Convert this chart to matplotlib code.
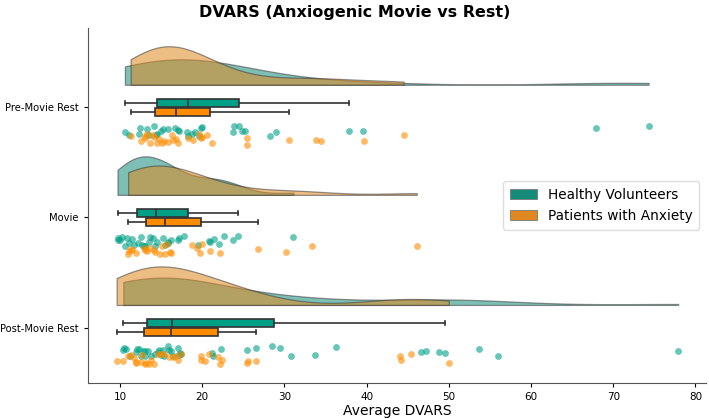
import colorsys

import matplotlib

matplotlib.use("Agg")
import matplotlib.pyplot as plt  # noqa: E402
import numpy as np  # noqa: E402
from matplotlib.colors import to_rgb  # noqa: E402
from matplotlib.patches import Patch  # noqa: E402

conditions = ["Pre-Movie Rest", "Movie", "Post-Movie Rest"]
groups = ["Healthy Volunteers", "Patients with Anxiety"]

# average DVARS per participant
hv_pre = [10.6, 11.1, 12.3, 12.4, 13.3, 13.5, 14.1, 14.4, 14.5, 15.0, 15.2, 15.9,
          16.7, 17.0, 17.2, 18.1, 18.3, 18.8, 19.1, 19.6, 19.8, 20.0, 23.8, 23.9,
          24.5, 24.8, 25.2, 28.3, 29.0, 37.9, 39.6, 67.9, 74.3]
pa_pre = [11.3, 12.6, 13.0, 13.1, 13.3, 13.7, 14.0, 14.1, 14.5, 14.8, 15.1, 15.4,
          15.9, 16.3, 16.5, 16.8, 17.1, 18.3, 18.9, 19.6, 19.8, 20.0, 20.6, 21.2,
          25.4, 25.5, 30.6, 33.8, 34.5, 39.7, 44.5]
hv_movie = [9.7, 9.8, 10.0, 10.2, 10.6, 10.8, 11.1, 11.5, 11.7, 12.2, 12.5, 12.7,
            12.9, 13.0, 13.5, 13.7, 14.0, 14.3, 14.5, 15.2, 15.5, 15.8, 15.8, 16.2,
            17.0, 17.2, 17.8, 19.5, 20.8, 21.0, 21.4, 22.0, 22.7, 23.7, 24.4, 31.1]
pa_movie = [11.0, 11.1, 11.3, 11.5, 11.9, 12.9, 13.1, 13.3, 13.7, 14.1, 14.3, 14.9,
            15.1, 15.5, 15.7, 16.1, 16.2, 18.7, 19.4, 19.7, 20.0, 20.9, 22.2, 26.8,
            30.2, 33.3, 46.1]
hv_post = [10.4, 10.5, 10.7, 11.2, 11.9, 12.1, 12.3, 12.5, 12.8, 13.0, 13.1, 13.4,
           13.8, 14.3, 14.6, 14.8, 15.0, 15.2, 15.4, 15.8, 16.0, 16.2, 16.4, 17.0,
           17.2, 17.3, 17.4, 21.2, 21.3, 22.3, 25.5, 26.5, 28.5, 29.5, 30.8, 33.75,
           36.25, 46.6, 47.2, 48.75, 49.5, 53.7, 56.0, 77.9]
pa_post = [9.6, 10.4, 11.0, 11.4, 11.7, 11.9, 11.9, 12.5, 12.7, 13.0, 13.2, 13.5,
           13.8, 14.1, 14.6, 15.0, 15.3, 16.0, 16.4, 16.8, 17.1, 17.4, 19.8, 19.9,
           20.3, 20.8, 21.9, 22.2, 22.4, 25.4, 25.6, 26.5, 44.0, 44.2, 45.4, 50.0]

data = {
    "Pre-Movie Rest": (hv_pre, pa_pre),
    "Movie": (hv_movie, pa_movie),
    "Post-Movie Rest": (hv_post, pa_post),
}

PALETTE = ["#00a087", "#ff8c00"]


def desaturate(color, prop=0.75):
    h, l, s = colorsys.rgb_to_hls(*to_rgb(color))
    return colorsys.hls_to_rgb(h, l, s * prop)


def kde(values, grid):
    v = np.asarray(values, float)
    bw = v.std(ddof=1) * len(v) ** (-1 / 5)  # scott
    z = (grid[:, None] - v[None, :]) / bw
    return np.exp(-0.5 * z ** 2).sum(axis=1) / (len(v) * bw * np.sqrt(2 * np.pi))


fig = plt.figure(figsize=(7.09, 4.19), dpi=100)
ax = fig.add_axes([0.124, 0.087, 0.872, 0.846])

rng = np.random.default_rng(7)
cloud_cols = [desaturate(c) for c in PALETTE]

for i, cond in enumerate(conditions):
    pair = data[cond]
    base = i - 0.205
    curves = []
    for vals in pair:
        grid = np.linspace(min(vals), max(vals), 300)
        curves.append((grid, kde(vals, grid)))
    scale = 0.35 / max(d.max() for _, d in curves)
    for (grid, dens), col in zip(curves, cloud_cols):
        ax.fill_between(grid, base, base - dens * scale, facecolor=col, alpha=0.55,
                        edgecolor="#3a3a3a", linewidth=0.9, zorder=1)

    for j, (vals, col) in enumerate(zip(pair, PALETTE)):
        pos = i - 0.038 + j * 0.077
        ax.boxplot(vals, positions=[pos], widths=0.072, orientation="horizontal",
                   patch_artist=True, showfliers=False, manage_ticks=False,
                   boxprops=dict(facecolor=col, edgecolor="#333333", linewidth=1.2),
                   medianprops=dict(color="#333333", linewidth=1.2),
                   whiskerprops=dict(color="#333333", linewidth=1.2),
                   capprops=dict(color="#333333", linewidth=1.2), zorder=3)

        yc = i + 0.215 + j * 0.075
        jit = rng.uniform(-0.05, 0.05, len(vals))
        ax.scatter(vals, yc + jit, s=24, color=col, alpha=0.6, linewidths=0, zorder=2)

ax.set_ylim(2.5, -0.72)
ax.set_xlim(6.1, 81.3)
ax.set_yticks(range(len(conditions)))
ax.set_yticklabels(conditions, fontsize=7.2)
ax.tick_params(axis="x", labelsize=7.5, length=3)
ax.tick_params(axis="y", length=3)
ax.set_xlabel("Average DVARS", fontsize=10, labelpad=2)
fig.text(0.5, 0.969, "DVARS (Anxiogenic Movie vs Rest)", ha="center", va="center",
         fontsize=11.5, fontweight="bold")
for side in ["top", "right"]:
    ax.spines[side].set_visible(False)
for side in ["left", "bottom"]:
    ax.spines[side].set_color("#555555")

handles = [Patch(facecolor=c, edgecolor="#777777", linewidth=0.6) for c in cloud_cols]
ax.legend(handles, groups, loc="center right", fontsize=9.8, borderpad=0.5,
          handlelength=2.0, framealpha=1, edgecolor="#dddddd")

fig.savefig("out.png", dpi=100)
